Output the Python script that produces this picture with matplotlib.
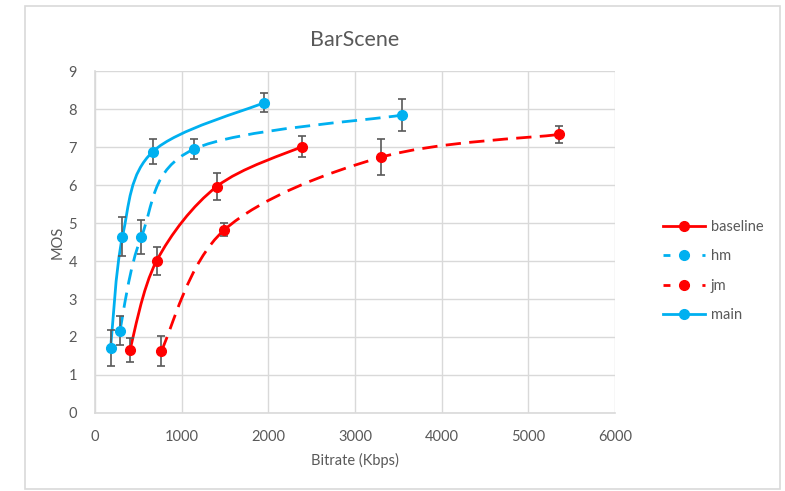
import matplotlib
matplotlib.use("Agg")
import matplotlib.pyplot as plt
from matplotlib.path import Path
from matplotlib.patches import PathPatch, Rectangle
from matplotlib.lines import Line2D

# Data
series_names = ["baseline", "hm", "jm", "main"]

baseline_x = [401, 710, 1405, 2386]
baseline_y = [1.65, 4.00, 5.96, 7.01]
baseline_err = [0.32, 0.36, 0.36, 0.28]

hm_x = [286, 535, 1138, 3540]
hm_y = [2.16, 4.64, 6.94, 7.84]
hm_err = [0.38, 0.45, 0.26, 0.43]

jm_x = [764, 1493, 3299, 5357]
jm_y = [1.63, 4.82, 6.73, 7.33]
jm_err = [0.40, 0.17, 0.47, 0.23]

main_x = [180, 317, 668, 1955]
main_y = [1.71, 4.64, 6.88, 8.17]
main_err = [0.47, 0.52, 0.32, 0.25]

x_ticks = [0, 1000, 2000, 3000, 4000, 5000, 6000]
y_ticks = [0, 1, 2, 3, 4, 5, 6, 7, 8, 9]

BLUE = "#00B0F0"
RED = "#FF0000"
TXT = "#595959"
GRID = "#D9D9D9"

plt.rcParams["font.family"] = ["Lato", "DejaVu Sans"]


def smooth_path(xs, ys):
    """Excel-like smoothed line: Catmull-Rom segments as cubic Beziers."""
    pts = list(zip(xs, ys))
    n = len(pts)
    verts = [pts[0]]
    codes = [Path.MOVETO]
    for i in range(n - 1):
        p0 = pts[i - 1] if i > 0 else pts[i]
        p1 = pts[i]
        p2 = pts[i + 1]
        p3 = pts[i + 2] if i + 2 < n else pts[i + 1]
        c1 = (p1[0] + (p2[0] - p0[0]) / 6, p1[1] + (p2[1] - p0[1]) / 6)
        c2 = (p2[0] - (p3[0] - p1[0]) / 6, p2[1] - (p3[1] - p1[1]) / 6)
        verts += [c1, c2, p2]
        codes += [Path.CURVE4] * 3
    return Path(verts, codes)


fig = plt.figure(figsize=(7.85, 4.91), dpi=100)
fig.patches.append(Rectangle((25 / 785, 2 / 491), 755 / 785, 483 / 491,
                             transform=fig.transFigure, fill=False,
                             edgecolor=GRID, linewidth=1.2))
ax = fig.add_axes([95 / 785, 1 - 413 / 491, 520 / 785, 342 / 491])

dash = (0, (5.5, 3))
series = [
    ("baseline", baseline_x, baseline_y, baseline_err, RED, "-"),
    ("hm", hm_x, hm_y, hm_err, BLUE, dash),
    ("jm", jm_x, jm_y, jm_err, RED, dash),
    ("main", main_x, main_y, main_err, BLUE, "-"),
]

handles = []
for name, xs, ys, errs, color, ls in series:
    ax.add_patch(PathPatch(smooth_path(xs, ys), facecolor="none",
                           edgecolor=color, linewidth=2.0, linestyle=ls,
                           zorder=3))
    ax.errorbar(xs, ys, yerr=errs, fmt="none", ecolor="#595959",
                elinewidth=1.2, capsize=3, capthick=1.2, zorder=4)
    ax.plot(xs, ys, "o", color=color, markersize=7, zorder=5)
    handles.append(Line2D([0], [0], color=color, linewidth=2.0,
                          linestyle="-" if ls == "-" else (0, (2.5, 4.5)),
                          marker="o", markersize=7))

ax.set_xlim(0, 6000)
ax.set_ylim(0, 9)
ax.set_xticks(x_ticks)
ax.set_yticks(y_ticks)
ax.grid(True, color=GRID, linewidth=1.0)
ax.set_axisbelow(True)
for side in ["top", "right"]:
    ax.spines[side].set_visible(False)
for side in ["left", "bottom"]:
    ax.spines[side].set_color(GRID)
    ax.spines[side].set_linewidth(1.2)
ax.tick_params(axis="x", length=0, colors=TXT, labelsize=10.5, pad=12)
ax.tick_params(axis="y", length=0, colors=TXT, labelsize=10.5, pad=13)

ax.set_title("BarScene", color=TXT, fontsize=15.5, pad=18)
ax.set_xlabel("Bitrate (Kbps)", color=TXT, fontsize=10.5, labelpad=7)
ax.set_ylabel("MOS", color=TXT, fontsize=10.5, labelpad=3)

fig.legend(handles, series_names, loc="center left",
           bbox_to_anchor=(650 / 785, 1 - 271 / 491), frameon=False,
           fontsize=10.5, labelcolor=TXT, handlelength=2.9, handletextpad=0.35,
           labelspacing=1.05)

fig.savefig("out.png", dpi=100)
